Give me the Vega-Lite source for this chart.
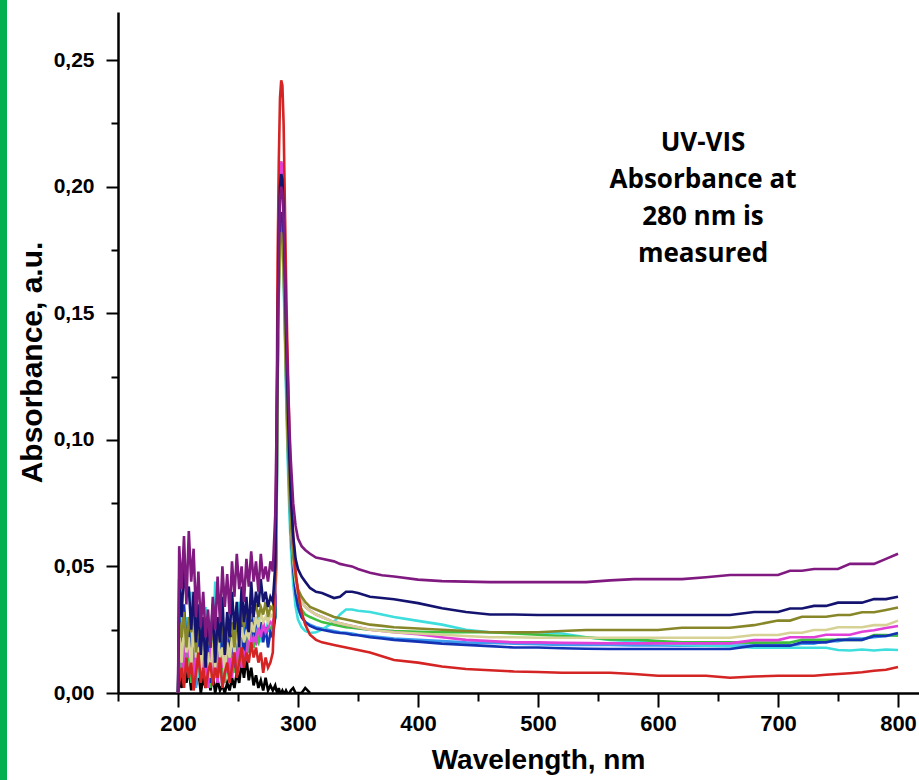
{
 "$schema": "https://vega.github.io/schema/vega-lite/v6.json",
 "width": 801,
 "height": 681,
 "autosize": {"type": "none"},
 "padding": {"left": 118, "top": 12, "right": 0, "bottom": 87},
 "background": "white",
 "config": {"view": {"stroke": null}, "font": "Liberation Sans"},
 "datasets": {
  "spectra": [
   {"w":200,"P":0,"N":0,"O":0,"K":0,"M":0,"G":0,"B":0,"C":0,"L":0,"R":0,"Bk":0},
   {"w":201,"P":0.058,"N":0.045,"O":0.028,"K":0.024,"M":0.012,"G":0.018,"B":0.030,"C":0.020,"L":0.010,"R":0.004,"Bk":0.008},
   {"w":203,"P":0.041,"N":0.030,"O":0.022,"K":0.012,"M":0.020,"G":0.008,"B":0.015,"C":0.035,"L":0.018,"R":0.010,"Bk":0.002},
   {"w":205,"P":0.062,"N":0.050,"O":0.032,"K":0.028,"M":0.006,"G":0.022,"B":0.035,"C":0.012,"L":0.004,"R":0.002,"Bk":0.013},
   {"w":207,"P":0.035,"N":0.038,"O":0.018,"K":0.016,"M":0.024,"G":0.012,"B":0.020,"C":0.030,"L":0.014,"R":0.014,"Bk":0.004},
   {"w":209,"P":0.064,"N":0.042,"O":0.030,"K":0.022,"M":0.014,"G":0.016,"B":0.028,"C":0.018,"L":0.022,"R":0.006,"Bk":0.010},
   {"w":211,"P":0.044,"N":0.025,"O":0.024,"K":0.010,"M":0.018,"G":0.004,"B":0.008,"C":0.040,"L":0.008,"R":0.012,"Bk":0.001},
   {"w":213,"P":0.057,"N":0.040,"O":0.034,"K":0.026,"M":0.004,"G":0.020,"B":0.025,"C":0.010,"L":0.016,"R":0.001,"Bk":0.015},
   {"w":215,"P":0.030,"N":0.020,"O":0.016,"K":0.014,"M":0.016,"G":0.010,"B":0.012,"C":0.026,"L":0.002,"R":0.008,"Bk":0.003},
   {"w":217,"P":0.048,"N":0.035,"O":0.026,"K":0.018,"M":0.010,"G":0.014,"B":0.030,"C":0.006,"L":0.012,"R":0.016,"Bk":0.009},
   {"w":219,"P":0.026,"N":0.015,"O":0.020,"K":0.008,"M":0.022,"G":0.006,"B":0.006,"C":0.022,"L":0.020,"R":0.004,"Bk":0.000},
   {"w":221,"P":0.040,"N":0.030,"O":0.030,"K":0.022,"M":0.006,"G":0.018,"B":0.022,"C":0.014,"L":0.006,"R":0.010,"Bk":0.006},
   {"w":223,"P":0.022,"N":0.010,"O":0.014,"K":0.012,"M":0.014,"G":0.008,"B":0.014,"C":0.034,"L":0.010,"R":0.002,"Bk":0.002},
   {"w":225,"P":0.033,"N":0.028,"O":0.024,"K":0.016,"M":0.002,"G":0.012,"B":0.026,"C":0.008,"L":0.016,"R":0.008,"Bk":0.011},
   {"w":227,"P":0.018,"N":0.018,"O":0.018,"K":0.006,"M":0.018,"G":0.002,"B":0.004,"C":0.028,"L":0.004,"R":0.012,"Bk":0.001},
   {"w":229,"P":0.038,"N":0.035,"O":0.028,"K":0.020,"M":0.008,"G":0.016,"B":0.020,"C":0.016,"L":0.012,"R":0.003,"Bk":0.007},
   {"w":231,"P":0.025,"N":0.012,"O":0.012,"K":0.010,"M":0.012,"G":0.006,"B":0.010,"C":0.044,"L":0.018,"R":0.010,"Bk":0.000},
   {"w":233,"P":0.046,"N":0.030,"O":0.026,"K":0.024,"M":0.004,"G":0.020,"B":0.028,"C":0.012,"L":0.008,"R":0.006,"Bk":0.005},
   {"w":235,"P":0.028,"N":0.020,"O":0.020,"K":0.014,"M":0.016,"G":0.010,"B":0.008,"C":0.030,"L":0.014,"R":0.014,"Bk":0.001},
   {"w":237,"P":0.050,"N":0.038,"O":0.030,"K":0.018,"M":0.010,"G":0.014,"B":0.024,"C":0.006,"L":0.002,"R":0.002,"Bk":0.003},
   {"w":239,"P":0.034,"N":0.015,"O":0.016,"K":0.008,"M":0.020,"G":0.004,"B":0.012,"C":0.024,"L":0.010,"R":0.008,"Bk":0.000},
   {"w":241,"P":0.047,"N":0.032,"O":0.024,"K":0.020,"M":0.008,"G":0.018,"B":0.030,"C":0.018,"L":0.016,"R":0.012,"Bk":0.004},
   {"w":243,"P":0.031,"N":0.022,"O":0.022,"K":0.014,"M":0.014,"G":0.010,"B":0.016,"C":0.032,"L":0.006,"R":0.004,"Bk":0.001},
   {"w":245,"P":0.052,"N":0.040,"O":0.028,"K":0.022,"M":0.006,"G":0.016,"B":0.026,"C":0.010,"L":0.012,"R":0.010,"Bk":0.006},
   {"w":247,"P":0.038,"N":0.025,"O":0.018,"K":0.016,"M":0.018,"G":0.008,"B":0.010,"C":0.028,"L":0.020,"R":0.016,"Bk":0.002},
   {"w":249,"P":0.055,"N":0.036,"O":0.030,"K":0.024,"M":0.012,"G":0.020,"B":0.032,"C":0.020,"L":0.010,"R":0.006,"Bk":0.008},
   {"w":251,"P":0.041,"N":0.018,"O":0.024,"K":0.018,"M":0.022,"G":0.012,"B":0.018,"C":0.036,"L":0.014,"R":0.012,"Bk":0.004},
   {"w":253,"P":0.050,"N":0.042,"O":0.032,"K":0.026,"M":0.010,"G":0.018,"B":0.028,"C":0.014,"L":0.018,"R":0.018,"Bk":0.012},
   {"w":255,"P":0.036,"N":0.028,"O":0.026,"K":0.020,"M":0.016,"G":0.014,"B":0.014,"C":0.026,"L":0.012,"R":0.010,"Bk":0.006},
   {"w":257,"P":0.053,"N":0.038,"O":0.034,"K":0.024,"M":0.014,"G":0.022,"B":0.030,"C":0.022,"L":0.020,"R":0.016,"Bk":0.014},
   {"w":259,"P":0.042,"N":0.024,"O":0.028,"K":0.022,"M":0.024,"G":0.016,"B":0.020,"C":0.030,"L":0.016,"R":0.012,"Bk":0.005},
   {"w":261,"P":0.056,"N":0.044,"O":0.030,"K":0.028,"M":0.018,"G":0.024,"B":0.034,"C":0.018,"L":0.022,"R":0.020,"Bk":0.010},
   {"w":263,"P":0.044,"N":0.030,"O":0.032,"K":0.024,"M":0.022,"G":0.018,"B":0.022,"C":0.028,"L":0.018,"R":0.014,"Bk":0.003},
   {"w":265,"P":0.052,"N":0.040,"O":0.035,"K":0.030,"M":0.020,"G":0.022,"B":0.030,"C":0.024,"L":0.024,"R":0.018,"Bk":0.007},
   {"w":267,"P":0.040,"N":0.034,"O":0.030,"K":0.026,"M":0.026,"G":0.020,"B":0.024,"C":0.030,"L":0.020,"R":0.012,"Bk":0.002},
   {"w":269,"P":0.055,"N":0.045,"O":0.034,"K":0.032,"M":0.022,"G":0.026,"B":0.028,"C":0.020,"L":0.022,"R":0.016,"Bk":0.005},
   {"w":271,"P":0.045,"N":0.036,"O":0.031,"K":0.028,"M":0.028,"G":0.022,"B":0.020,"C":0.026,"L":0.024,"R":0.008,"Bk":0.001},
   {"w":273,"P":0.050,"N":0.040,"O":0.036,"K":0.030,"M":0.024,"G":0.024,"B":0.026,"C":0.024,"L":0.023,"R":0.014,"Bk":0.006},
   {"w":275,"P":0.044,"N":0.034,"O":0.030,"K":0.028,"M":0.026,"G":0.026,"B":0.018,"C":0.028,"L":0.025,"R":0.010,"Bk":0.001},
   {"w":277,"P":0.052,"N":0.038,"O":0.034,"K":0.031,"M":0.028,"G":0.025,"B":0.024,"C":0.025,"L":0.024,"R":0.012,"Bk":0.003},
   {"w":279,"P":0.048,"N":0.036,"O":0.033,"K":0.030,"M":0.027,"G":0.027,"B":0.022,"C":0.027,"L":0.025,"R":0.016,"Bk":0.001},
   {"w":281,"P":0.070,"N":0.050,"O":0.045,"K":0.040,"M":0.035,"G":0.030,"B":0.030,"C":0.030,"L":0.030,"R":0.045,"Bk":0.003},
   {"w":282,"P":0.100,"N":0.080,"O":0.070,"K":0.065,"M":0.075,"G":0.060,"B":0.065,"C":0.060,"L":0.060,"R":0.090,"Bk":0.001},
   {"w":283,"P":0.140,"N":0.140,"O":0.125,"K":0.120,"M":0.150,"G":0.125,"B":0.130,"C":0.120,"L":0.125,"R":0.170,"Bk":0.000},
   {"w":284,"P":0.175,"N":0.180,"O":0.160,"K":0.158,"M":0.185,"G":0.163,"B":0.168,"C":0.157,"L":0.163,"R":0.210,"Bk":0.002},
   {"w":285,"P":0.195,"N":0.200,"O":0.178,"K":0.176,"M":0.205,"G":0.181,"B":0.186,"C":0.174,"L":0.181,"R":0.235,"Bk":0.000},
   {"w":286,"P":0.200,"N":0.205,"O":0.182,"K":0.180,"M":0.210,"G":0.185,"B":0.190,"C":0.178,"L":0.185,"R":0.242,"Bk":0.000},
   {"w":287,"P":0.198,"N":0.203,"O":0.180,"K":0.178,"M":0.208,"G":0.183,"B":0.188,"C":0.176,"L":0.182,"R":0.240,"Bk":0.001},
   {"w":288,"P":0.188,"N":0.190,"O":0.168,"K":0.166,"M":0.195,"G":0.171,"B":0.176,"C":0.163,"L":0.169,"R":0.225,"Bk":0.000},
   {"w":289,"P":0.170,"N":0.168,"O":0.148,"K":0.146,"M":0.170,"G":0.150,"B":0.155,"C":0.142,"L":0.147,"R":0.195,"Bk":0.000},
   {"w":290,"P":0.150,"N":0.145,"O":0.127,"K":0.125,"M":0.145,"G":0.128,"B":0.132,"C":0.120,"L":0.125,"R":0.165,"Bk":0.001},
   {"w":291,"P":0.132,"N":0.124,"O":0.108,"K":0.106,"M":0.122,"G":0.108,"B":0.111,"C":0.100,"L":0.105,"R":0.140,"Bk":0.000},
   {"w":292,"P":0.117,"N":0.106,"O":0.092,"K":0.090,"M":0.103,"G":0.091,"B":0.093,"C":0.083,"L":0.088,"R":0.120,"Bk":0.000},
   {"w":293,"P":0.103,"N":0.091,"O":0.079,"K":0.077,"M":0.087,"G":0.077,"B":0.078,"C":0.069,"L":0.074,"R":0.100,"Bk":0.000},
   {"w":294,"P":0.092,"N":0.078,"O":0.068,"K":0.066,"M":0.073,"G":0.065,"B":0.065,"C":0.058,"L":0.062,"R":0.082,"Bk":0.001},
   {"w":296,"P":0.075,"N":0.062,"O":0.054,"K":0.052,"M":0.056,"G":0.050,"B":0.049,"C":0.043,"L":0.047,"R":0.062,"Bk":0.002},
   {"w":298,"P":0.066,"N":0.053,"O":0.046,"K":0.044,"M":0.046,"G":0.041,"B":0.039,"C":0.034,"L":0.038,"R":0.048,"Bk":0.000},
   {"w":300,"P":0.061,"N":0.049,"O":0.041,"K":0.039,"M":0.040,"G":0.036,"B":0.034,"C":0.029,"L":0.033,"R":0.040,"Bk":0.000},
   {"w":303,"P":0.058,"N":0.046,"O":0.038,"K":0.036,"M":0.036,"G":0.033,"B":0.030,"C":0.026,"L":0.030,"R":0.032,"Bk":0.000},
   {"w":306,"P":0.0565,"N":0.044,"O":0.036,"K":0.034,"M":0.034,"G":0.031,"B":0.028,"C":0.0245,"L":0.028,"R":0.027,"Bk":0.002},
   {"w":310,"P":0.055,"N":0.0415,"O":0.034,"K":0.0325,"M":0.0325,"G":0.030,"B":0.0265,"C":0.0237,"L":0.027,"R":0.023,"Bk":0.000},
   {"w":315,"P":0.0535,"N":0.040,"O":0.033,"K":0.031,"M":0.031,"G":0.029,"B":0.0255,"C":0.024,"L":0.026,"R":0.021},
   {"w":320,"P":0.053,"N":0.0395,"O":0.032,"K":0.030,"M":0.030,"G":0.028,"B":0.025,"C":0.025,"L":0.0255,"R":0.020},
   {"w":330,"P":0.052,"N":0.0375,"O":0.030,"K":0.028,"M":0.028,"G":0.027,"B":0.024,"C":0.028,"L":0.0245,"R":0.019},
   {"w":335,"P":0.051,"N":0.038,"O":0.0295,"K":0.0275,"M":0.0275,"G":0.0265,"B":0.0237,"C":0.031,"L":0.024,"R":0.0185},
   {"w":340,"P":0.0505,"N":0.040,"O":0.029,"K":0.027,"M":0.027,"G":0.026,"B":0.0235,"C":0.033,"L":0.0238,"R":0.018},
   {"w":345,"P":0.050,"N":0.040,"O":0.0285,"K":0.0265,"M":0.0265,"G":0.0258,"B":0.023,"C":0.033,"L":0.0235,"R":0.0175},
   {"w":350,"P":0.049,"N":0.0395,"O":0.028,"K":0.026,"M":0.026,"G":0.0255,"B":0.0228,"C":0.0325,"L":0.023,"R":0.017},
   {"w":360,"P":0.0475,"N":0.038,"O":0.027,"K":0.025,"M":0.025,"G":0.025,"B":0.022,"C":0.032,"L":0.0225,"R":0.016},
   {"w":370,"P":0.0465,"N":0.0375,"O":0.0265,"K":0.0245,"M":0.0245,"G":0.0248,"B":0.0215,"C":0.031,"L":0.022,"R":0.0145},
   {"w":380,"P":0.046,"N":0.037,"O":0.026,"K":0.024,"M":0.024,"G":0.0245,"B":0.021,"C":0.030,"L":0.0215,"R":0.013},
   {"w":400,"P":0.0448,"N":0.0355,"O":0.0255,"K":0.0235,"M":0.0232,"G":0.0242,"B":0.0203,"C":0.0285,"L":0.021,"R":0.012},
   {"w":420,"P":0.0442,"N":0.0335,"O":0.025,"K":0.023,"M":0.022,"G":0.024,"B":0.0195,"C":0.027,"L":0.0205,"R":0.0105},
   {"w":440,"P":0.044,"N":0.032,"O":0.0245,"K":0.0225,"M":0.021,"G":0.024,"B":0.019,"C":0.025,"L":0.020,"R":0.0095},
   {"w":460,"P":0.0438,"N":0.031,"O":0.024,"K":0.022,"M":0.0205,"G":0.024,"B":0.0185,"C":0.024,"L":0.0198,"R":0.009},
   {"w":480,"P":0.0438,"N":0.031,"O":0.024,"K":0.022,"M":0.020,"G":0.0235,"B":0.018,"C":0.024,"L":0.0195,"R":0.0085},
   {"w":500,"P":0.0438,"N":0.0308,"O":0.024,"K":0.0218,"M":0.020,"G":0.023,"B":0.018,"C":0.024,"L":0.0193,"R":0.0083},
   {"w":520,"P":0.0438,"N":0.0308,"O":0.0245,"K":0.0218,"M":0.0198,"G":0.0225,"B":0.0177,"C":0.0235,"L":0.019,"R":0.008},
   {"w":540,"P":0.0438,"N":0.0308,"O":0.0249,"K":0.0218,"M":0.0197,"G":0.022,"B":0.0175,"C":0.022,"L":0.019,"R":0.008},
   {"w":560,"P":0.0445,"N":0.0308,"O":0.0249,"K":0.0218,"M":0.0196,"G":0.0212,"B":0.0174,"C":0.021,"L":0.019,"R":0.008},
   {"w":580,"P":0.045,"N":0.0308,"O":0.0249,"K":0.0218,"M":0.0196,"G":0.0212,"B":0.0174,"C":0.0205,"L":0.0188,"R":0.0075},
   {"w":600,"P":0.045,"N":0.0308,"O":0.0249,"K":0.0218,"M":0.0196,"G":0.0205,"B":0.0174,"C":0.0195,"L":0.0188,"R":0.0068},
   {"w":620,"P":0.045,"N":0.0308,"O":0.0258,"K":0.0218,"M":0.0196,"G":0.020,"B":0.0174,"C":0.019,"L":0.0187,"R":0.0068},
   {"w":640,"P":0.0457,"N":0.0308,"O":0.0258,"K":0.0218,"M":0.0196,"G":0.020,"B":0.0174,"C":0.0187,"L":0.0187,"R":0.0068},
   {"w":660,"P":0.0466,"N":0.0308,"O":0.0258,"K":0.0218,"M":0.0196,"G":0.020,"B":0.0174,"C":0.0185,"L":0.0187,"R":0.006},
   {"w":680,"P":0.0466,"N":0.032,"O":0.0268,"K":0.0229,"M":0.0209,"G":0.0199,"B":0.0187,"C":0.0179,"L":0.0187,"R":0.0065},
   {"w":700,"P":0.0466,"N":0.032,"O":0.0286,"K":0.0229,"M":0.0209,"G":0.0199,"B":0.0187,"C":0.0179,"L":0.0187,"R":0.0068},
   {"w":710,"P":0.0483,"N":0.0334,"O":0.0286,"K":0.0238,"M":0.022,"G":0.0199,"B":0.0187,"C":0.0179,"L":0.0187,"R":0.0068},
   {"w":720,"P":0.0483,"N":0.0334,"O":0.0301,"K":0.0238,"M":0.022,"G":0.021,"B":0.020,"C":0.0179,"L":0.0195,"R":0.0068},
   {"w":730,"P":0.049,"N":0.0344,"O":0.0301,"K":0.0249,"M":0.022,"G":0.021,"B":0.020,"C":0.0179,"L":0.0195,"R":0.0068},
   {"w":740,"P":0.049,"N":0.0344,"O":0.0301,"K":0.0249,"M":0.023,"G":0.021,"B":0.020,"C":0.0179,"L":0.0205,"R":0.0072},
   {"w":750,"P":0.049,"N":0.0357,"O":0.0308,"K":0.026,"M":0.023,"G":0.021,"B":0.021,"C":0.017,"L":0.0205,"R":0.0075},
   {"w":760,"P":0.051,"N":0.0357,"O":0.0308,"K":0.026,"M":0.023,"G":0.021,"B":0.021,"C":0.0168,"L":0.0215,"R":0.0078},
   {"w":770,"P":0.051,"N":0.0357,"O":0.0319,"K":0.026,"M":0.0242,"G":0.021,"B":0.021,"C":0.0172,"L":0.0215,"R":0.0082},
   {"w":780,"P":0.051,"N":0.0371,"O":0.0319,"K":0.0268,"M":0.0248,"G":0.0229,"B":0.0225,"C":0.0168,"L":0.022,"R":0.0088},
   {"w":790,"P":0.053,"N":0.0371,"O":0.0328,"K":0.0268,"M":0.0257,"G":0.0229,"B":0.0225,"C":0.0172,"L":0.0225,"R":0.0092},
   {"w":800,"P":0.055,"N":0.038,"O":0.0338,"K":0.0286,"M":0.0265,"G":0.0226,"B":0.0237,"C":0.017,"L":0.023,"R":0.0103}
  ]
 },
 "layer": [
  {
   "data": {"values": [{}]},
   "mark": {"type": "rect", "color": "#00b050", "clip": false},
   "encoding": {
    "x": {"datum": 51, "type": "quantitative", "scale": {"domain": [150, 817.5], "nice": false, "zero": false}},
    "x2": {"datum": 57.5},
    "y": {"datum": -0.04, "type": "quantitative", "scale": {"domain": [0, 0.269], "nice": false}},
    "y2": {"datum": 0.28}
   }
  },
  {
   "data": {"name": "spectra"},
   "transform": [{"fold": ["Bk", "L", "C", "G", "B", "M", "K", "O", "R", "N", "P"], "as": ["series", "absorbance"]}],
   "mark": {"type": "line", "strokeWidth": 2.6, "clip": true},
   "encoding": {
    "x": {
     "field": "w", "type": "quantitative",
     "scale": {"domain": [150, 817.5], "nice": false, "zero": false},
     "axis": {
      "values": [150, 200, 250, 300, 350, 400, 450, 500, 550, 600, 650, 700, 750, 800],
      "labelExpr": "datum.value % 100 === 0 ? datum.value : ''",
      "tickSize": {"condition": {"test": "datum.value % 100 !== 0", "value": 8}, "value": 14},
      "tickWidth": 2, "tickColor": "black",
      "domainColor": "black", "domainWidth": 2.5,
      "grid": false,
      "labelFont": "Liberation Sans", "labelFontSize": 22, "labelFontWeight": "bold", "labelColor": "black",
      "labelPadding": 6, "labelFlush": false, "labelOverlap": false,
      "title": "Wavelength, nm",
      "titleFont": "Liberation Sans", "titleFontSize": 28, "titleFontWeight": "bold", "titleColor": "black",
      "titleX": 420, "titleY": 75, "titleBaseline": "alphabetic", "titleAlign": "center"
     }
    },
    "y": {
     "field": "absorbance", "type": "quantitative",
     "scale": {"domain": [0, 0.269], "nice": false},
     "axis": {
      "values": [0, 0.025, 0.05, 0.075, 0.1, 0.125, 0.15, 0.175, 0.2, 0.225, 0.25],
      "labelExpr": "round(datum.value*1000) % 50 === 0 ? replace(format(datum.value, '.2f'), '.', ',') : ''",
      "tickSize": {"condition": {"test": "round(datum.value*1000) % 50 !== 0", "value": 7}, "value": 12},
      "tickWidth": 2, "tickColor": "black",
      "domainColor": "black", "domainWidth": 2.5,
      "grid": false,
      "labelFont": "Liberation Sans", "labelFontSize": 21, "labelFontWeight": "bold", "labelColor": "black",
      "labelPadding": 12, "labelFlush": false, "labelOverlap": false,
      "title": "Absorbance, a.u.",
      "titleFont": "Liberation Sans", "titleFontSize": 30, "titleFontWeight": "bold", "titleColor": "black",
      "titleX": -86, "titleY": 350, "titleAngle": -90, "titleBaseline": "middle", "titleAlign": "center"
     }
    },
    "color": {
     "field": "series", "type": "nominal",
     "scale": {
      "domain": ["Bk", "L", "C", "G", "B", "M", "K", "O", "R", "N", "P"],
      "range": ["#000000", "#3d9bf0", "#3fdede", "#3fbf3f", "#1432b4", "#e040d8", "#d6d296", "#87872a", "#d42424", "#141470", "#801a80"]
     },
     "legend": null
    }
   }
  },
  {
   "data": {"values": [{}]},
   "mark": {
    "type": "text",
    "text": ["UV-VIS", "Absorbance at", "280 nm is", "measured"],
    "font": "Open Sans", "fontWeight": "bold", "fontSize": 26, "lineHeight": 37,
    "align": "center", "baseline": "middle", "color": "black"
   },
   "encoding": {
    "x": {"datum": 637.5, "type": "quantitative"},
    "y": {"datum": 0.2172, "type": "quantitative"}
   }
  }
 ]
}
